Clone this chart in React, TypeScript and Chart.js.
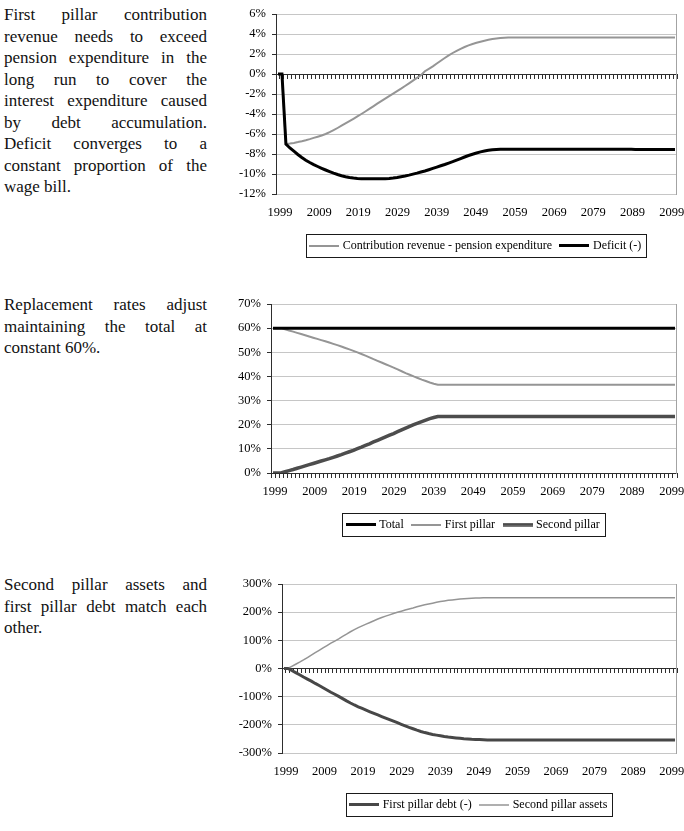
import React, { useEffect, useRef } from 'react';
import { Chart, registerables } from 'chart.js';

Chart.register(...registerables);

const FONT = "'Liberation Serif', 'Times New Roman', serif";

// Category axis: one entry per year of the projection
const years: string[] = [];
for (let y = 1999; y <= 2099; y++) years.push(String(y));
const labelledYears = [1999, 2009, 2019, 2029, 2039, 2049, 2059, 2069, 2079, 2089, 2099];

// Panel 1 (% of wage bill)
const contributionMinusExpenditure = [
  0, 0, -7.0, -6.95, -6.89, -6.81, -6.72, -6.62, -6.51, -6.39,
  -6.27, -6.15, -6.0, -5.82, -5.62, -5.4, -5.17, -4.94, -4.71, -4.48,
  -4.24, -4.0, -3.75, -3.49, -3.23, -2.97, -2.71, -2.46, -2.21, -1.97,
  -1.72, -1.47, -1.2, -0.93, -0.66, -0.39, -0.12, 0.28, 0.52, 0.77,
  1.05, 1.33, 1.6, 1.86, 2.1, 2.32, 2.52, 2.7, 2.86, 3.0,
  3.12, 3.23, 3.33, 3.42, 3.49, 3.55, 3.6, 3.63, 3.64, 3.64,
  3.64, 3.64, 3.64, 3.64, 3.64, 3.64, 3.64, 3.64, 3.64, 3.64,
  3.64, 3.64, 3.64, 3.64, 3.64, 3.64, 3.64, 3.64, 3.64, 3.64,
  3.64, 3.64, 3.64, 3.64, 3.64, 3.64, 3.64, 3.64, 3.64, 3.64,
  3.64, 3.64, 3.64, 3.64, 3.64, 3.64, 3.64, 3.64, 3.64, 3.64,
  3.64,
];
const deficit = [
  0, 0, -7.0, -7.4, -7.72, -8.05, -8.35, -8.62, -8.85, -9.06,
  -9.25, -9.43, -9.6, -9.76, -9.91, -10.05, -10.17, -10.27, -10.35, -10.41,
  -10.45, -10.47, -10.48, -10.48, -10.48, -10.48, -10.48, -10.47, -10.45, -10.4,
  -10.34, -10.27, -10.2, -10.11, -10.01, -9.91, -9.8, -9.7, -9.57, -9.44,
  -9.31, -9.18, -9.05, -8.91, -8.77, -8.62, -8.46, -8.3, -8.15, -8.02,
  -7.9, -7.79, -7.7, -7.63, -7.58, -7.54, -7.52, -7.52, -7.52, -7.52,
  -7.52, -7.52, -7.52, -7.52, -7.52, -7.52, -7.52, -7.52, -7.52, -7.52,
  -7.52, -7.52, -7.52, -7.52, -7.52, -7.52, -7.52, -7.52, -7.52, -7.52,
  -7.53, -7.53, -7.53, -7.53, -7.53, -7.53, -7.53, -7.53, -7.53, -7.53,
  -7.54, -7.54, -7.54, -7.54, -7.54, -7.54, -7.54, -7.54, -7.54, -7.54,
  -7.54,
];

// Panel 2 (replacement rates, %)
const totalReplacement = [
  60, 60, 60, 60, 60, 60, 60, 60, 60, 60,
  60, 60, 60, 60, 60, 60, 60, 60, 60, 60,
  60, 60, 60, 60, 60, 60, 60, 60, 60, 60,
  60, 60, 60, 60, 60, 60, 60, 60, 60, 60,
  60, 60, 60, 60, 60, 60, 60, 60, 60, 60,
  60, 60, 60, 60, 60, 60, 60, 60, 60, 60,
  60, 60, 60, 60, 60, 60, 60, 60, 60, 60,
  60, 60, 60, 60, 60, 60, 60, 60, 60, 60,
  60, 60, 60, 60, 60, 60, 60, 60, 60, 60,
  60, 60, 60, 60, 60, 60, 60, 60, 60, 60,
  60,
];
const firstPillarReplacement = [
  60, 60, 60, 59.5, 59.0, 58.55, 58.05, 57.55, 57.05, 56.55,
  56.05, 55.55, 55.05, 54.55, 54.05, 53.5, 52.95, 52.4, 51.8, 51.2,
  50.6, 49.95, 49.3, 48.6, 47.9, 47.15, 46.45, 45.75, 45.05, 44.35,
  43.65, 42.9, 42.15, 41.4, 40.7, 40.0, 39.35, 38.7, 38.1, 37.5,
  37.0, 36.6, 36.6, 36.6, 36.6, 36.6, 36.6, 36.6, 36.6, 36.6,
  36.6, 36.6, 36.6, 36.6, 36.6, 36.6, 36.6, 36.6, 36.6, 36.6,
  36.6, 36.6, 36.6, 36.6, 36.6, 36.6, 36.6, 36.6, 36.6, 36.6,
  36.6, 36.6, 36.6, 36.6, 36.6, 36.6, 36.6, 36.6, 36.6, 36.6,
  36.6, 36.6, 36.6, 36.6, 36.6, 36.6, 36.6, 36.6, 36.6, 36.6,
  36.6, 36.6, 36.6, 36.6, 36.6, 36.6, 36.6, 36.6, 36.6, 36.6,
  36.6,
];
const secondPillarReplacement = [
  0, 0, 0, 0.5, 1.0, 1.45, 1.95, 2.45, 2.95, 3.45,
  3.95, 4.45, 4.95, 5.45, 5.95, 6.5, 7.05, 7.6, 8.2, 8.8,
  9.4, 10.05, 10.7, 11.4, 12.1, 12.85, 13.55, 14.25, 14.95, 15.65,
  16.35, 17.1, 17.85, 18.6, 19.3, 20.0, 20.65, 21.3, 21.9, 22.5,
  23.0, 23.4, 23.4, 23.4, 23.4, 23.4, 23.4, 23.4, 23.4, 23.4,
  23.4, 23.4, 23.4, 23.4, 23.4, 23.4, 23.4, 23.4, 23.4, 23.4,
  23.4, 23.4, 23.4, 23.4, 23.4, 23.4, 23.4, 23.4, 23.4, 23.4,
  23.4, 23.4, 23.4, 23.4, 23.4, 23.4, 23.4, 23.4, 23.4, 23.4,
  23.4, 23.4, 23.4, 23.4, 23.4, 23.4, 23.4, 23.4, 23.4, 23.4,
  23.4, 23.4, 23.4, 23.4, 23.4, 23.4, 23.4, 23.4, 23.4, 23.4,
  23.4,
];

// Panel 3 (% of wage bill)
const firstPillarDebt = [
  0, 0, -7, -14.5, -22, -30, -37.5, -45, -53, -60.5,
  -68.5, -76.5, -84.5, -91.5, -99, -107, -115, -122.5, -129.5, -136,
  -142, -148, -153.8, -159.5, -165, -170.5, -176, -181.5, -187, -192.5,
  -198, -203.5, -209, -214, -219, -223.5, -227.5, -231, -234, -236.5,
  -239, -241.5, -243.5, -245, -246.5, -248, -249.5, -250.5, -251.5, -252,
  -252.5, -253, -253.5, -253.5, -253.5, -253.5, -253.5, -253.5, -253.5, -253.5,
  -253.5, -253.5, -253.5, -253.5, -253.5, -253.5, -253.5, -253.5, -253.5, -253.5,
  -253.5, -253.5, -253.5, -253.5, -253.5, -253.5, -253.5, -253.5, -253.5, -253.5,
  -253.5, -253.5, -253.5, -253.5, -253.5, -253.5, -253.5, -253.5, -253.5, -253.5,
  -253.5, -253.5, -253.5, -253.5, -253.5, -253.5, -253.5, -253.5, -253.5, -253.5,
  -253.5,
];
const secondPillarAssets = [
  0, 0, 7.5, 15, 22.5, 30.5, 39, 47.5, 56, 64.5,
  73, 81.5, 90, 97.5, 105.5, 114, 122, 130.5, 138, 145,
  151.5, 157.5, 163.5, 169.5, 175.5, 181, 186, 190.5, 195, 199.5,
  203.5, 207.5, 211.5, 215, 219, 222.5, 226, 229, 232, 235,
  237.5, 240, 242, 243.5, 245, 246.5, 247.5, 248.5, 249.5, 250,
  250.5, 251, 251, 251, 251, 251, 251, 251, 251, 251,
  251, 251, 251, 251, 251, 251, 251, 251, 251, 251,
  251, 251, 251, 251, 251, 251, 251, 251, 251, 251,
  251, 251, 251, 251, 251, 251, 251, 251, 251, 251,
  251, 251, 251, 251, 251, 251, 251, 251, 251, 251,
  251,
];

const paragraph1 = [
  'First pillar contribution',
  'revenue needs to exceed',
  'pension expenditure in the',
  'long run to cover the',
  'interest expenditure caused',
  'by debt accumulation.',
  'Deficit converges to a',
  'constant proportion of the',
  'wage bill.',
];
const paragraph2 = ['Replacement rates adjust', 'maintaining the total at', 'constant 60%.'];
const paragraph3 = ['Second pillar assets and', 'first pillar debt match each', 'other.'];

type Series = { label: string; data: number[]; color: string; width: number; order: number };
type Panel = {
  top: number;
  height: number;
  axisWidth: number;
  yMin: number;
  yMax: number;
  yStep: number;
  series: Series[];
};

const panels: Panel[] = [
  {
    top: 0, height: 262, axisWidth: 46, yMin: -12, yMax: 6, yStep: 2,
    series: [
      { label: 'Contribution revenue - pension expenditure', data: contributionMinusExpenditure, color: '#959595', width: 2, order: 1 },
      { label: 'Deficit (-)', data: deficit, color: '#000000', width: 3, order: 0 },
    ],
  },
  {
    top: 290, height: 251, axisWidth: 41, yMin: 0, yMax: 70, yStep: 10,
    series: [
      { label: 'Total', data: totalReplacement, color: '#000000', width: 3, order: 0 },
      { label: 'First pillar', data: firstPillarReplacement, color: '#959595', width: 2, order: 2 },
      { label: 'Second pillar', data: secondPillarReplacement, color: '#4d4d4d', width: 3.5, order: 1 },
    ],
  },
  {
    top: 570, height: 251, axisWidth: 52, yMin: -300, yMax: 300, yStep: 100,
    series: [
      { label: 'First pillar debt (-)', data: firstPillarDebt, color: '#474747', width: 3, order: 0 },
      { label: 'Second pillar assets', data: secondPillarAssets, color: '#959595', width: 1.5, order: 1 },
    ],
  },
];

// Short line used as the legend symbol of a series
function lineSample(color: string, width: number): HTMLCanvasElement {
  const c = document.createElement('canvas');
  c.width = 30;
  c.height = Math.max(2, Math.ceil(width));
  const g = c.getContext('2d');
  if (g) {
    g.fillStyle = color;
    g.fillRect(0, (c.height - width) / 2, 30, width);
  }
  return c;
}

// Right edge of the plot frame (left edge is the value axis, top/bottom are grid lines)
const plotFrame = {
  id: 'plotFrame',
  beforeDatasetsDraw(chart: any) {
    const { ctx, chartArea: a } = chart;
    ctx.save();
    ctx.strokeStyle = '#a3a3a3';
    ctx.lineWidth = 1;
    const x = Math.round(a.right) - 0.5;
    ctx.beginPath();
    ctx.moveTo(x, Math.round(a.top));
    ctx.lineTo(x, Math.round(a.bottom) + 1);
    ctx.stroke();
    ctx.restore();
  },
};

// Thin rectangle around the legend entries
const legendFrame = {
  id: 'legendFrame',
  afterDraw(chart: any) {
    const boxes = chart.legend && chart.legend.legendHitBoxes;
    if (!boxes || !boxes.length) return;
    let l = Infinity, r = -Infinity, t = Infinity, b = -Infinity;
    boxes.forEach((h: any) => {
      l = Math.min(l, h.left);
      r = Math.max(r, h.left + h.width);
      t = Math.min(t, h.top);
      b = Math.max(b, h.top + h.height);
    });
    const { ctx } = chart;
    ctx.save();
    ctx.strokeStyle = '#1a1a1a';
    ctx.lineWidth = 1;
    const x0 = Math.round(l - 6);
    const x1 = Math.round(r + 5);
    const y0 = Math.round(t - 6);
    const y1 = Math.round(b + 5);
    ctx.strokeRect(x0 + 0.5, y0 + 0.5, x1 - x0, y1 - y0);
    ctx.restore();
  },
};

function makeConfig(p: Panel): any {
  const tickFont = { family: FONT, size: 12.5 };
  return {
    type: 'line',
    data: {
      labels: years,
      datasets: p.series.map((s) => ({
        label: s.label,
        data: s.data,
        borderColor: s.color,
        backgroundColor: s.color,
        borderWidth: s.width,
        pointRadius: 0,
        pointHoverRadius: 0,
        pointStyle: lineSample(s.color, s.width),
        tension: 0,
        fill: false,
        order: s.order,
        xAxisID: 'x',
        yAxisID: 'y',
      })),
    },
    options: {
      responsive: false,
      animation: false,
      devicePixelRatio: 1,
      events: [],
      layout: { padding: { top: 14, right: 7, bottom: 0.5, left: 0 } },
      plugins: {
        tooltip: { enabled: false },
        legend: {
          position: 'bottom',
          fullSize: false,
          labels: {
            usePointStyle: true,
            pointStyleWidth: 25,
            padding: 10,
            color: '#000',
            font: { family: FONT, size: 12 },
            sort: (a: any, b: any) => a.datasetIndex - b.datasetIndex,
          },
        },
      },
      scales: {
        // Data axis: one category per year
        x: {
          type: 'category',
          display: false,
          offset: true,
        },
        // Year labels every ten years
        xl: {
          type: 'linear',
          axis: 'x',
          position: 'bottom',
          min: 1997.98,
          max: 2100.35,
          grid: { display: false, drawTicks: false },
          border: { display: false },
          ticks: {
            autoSkip: false,
            maxRotation: 0,
            minRotation: 0,
            padding: 11.5,
            color: '#000',
            font: tickFont,
            callback: (v: any) => String(v),
          },
          afterBuildTicks: (s: any) => {
            s.ticks = labelledYears.map((v) => ({ value: v }));
          },
          afterFit: (s: any) => {
            s.height = 35.5;
            s.paddingLeft = 0;
            s.paddingRight = 0;
          },
        },
        // Category axis crossing at zero: the dark line with a tick per year
        x0: {
          type: 'category',
          axis: 'x',
          position: { y: 0 },
          offset: true,
          grid: {
            display: true,
            drawOnChartArea: false,
            drawTicks: true,
            tickLength: 4,
            tickColor: '#2e2e2e',
            offset: true,
          },
          border: { display: true, color: '#2e2e2e', width: 1 },
          ticks: { display: false },
        },
        y: {
          type: 'linear',
          position: 'left',
          min: p.yMin,
          max: p.yMax,
          ticks: {
            stepSize: p.yStep,
            padding: 6,
            color: '#000',
            font: tickFont,
            callback: (v: any) => `${v}%`,
          },
          grid: { color: '#c6c6c6', tickColor: '#2e2e2e', tickLength: 4, drawTicks: true },
          border: { display: true, color: '#2e2e2e', width: 1 },
          afterFit: (s: any) => {
            s.width = p.axisWidth;
          },
        },
      },
    },
    plugins: [plotFrame, legendFrame],
  };
}

function PanelChart({ panel }: { panel: Panel }) {
  const ref = useRef<HTMLCanvasElement | null>(null);
  useEffect(() => {
    if (!ref.current) return;
    const chart = new Chart(ref.current, makeConfig(panel));
    return () => chart.destroy();
  }, [panel]);
  return (
    <canvas
      ref={ref}
      width={454}
      height={panel.height}
      style={{ position: 'absolute', left: 230, top: panel.top, width: 454, height: panel.height }}
    />
  );
}

function Paragraph({ top, lines }: { top: number; lines: string[] }) {
  return (
    <div
      style={{
        position: 'absolute',
        left: 4,
        top,
        width: 203,
        fontFamily: FONT,
        fontSize: 17,
        lineHeight: '21.5px',
        color: '#111',
      }}
    >
      {lines.map((ln, i) => {
        const last = i === lines.length - 1;
        return (
          <div key={i} style={{ textAlign: last ? 'left' : 'justify', textAlignLast: last ? 'left' : 'justify' } as any}>
            {ln}
          </div>
        );
      })}
    </div>
  );
}

export default function App() {
  return (
    <div style={{ position: 'absolute', left: 0, top: 0, width: 684, height: 831, overflow: 'hidden', background: '#fff' }}>
      <Paragraph top={4} lines={paragraph1} />
      <Paragraph top={294} lines={paragraph2} />
      <Paragraph top={574} lines={paragraph3} />
      {panels.map((p, i) => (
        <PanelChart key={i} panel={p} />
      ))}
    </div>
  );
}
